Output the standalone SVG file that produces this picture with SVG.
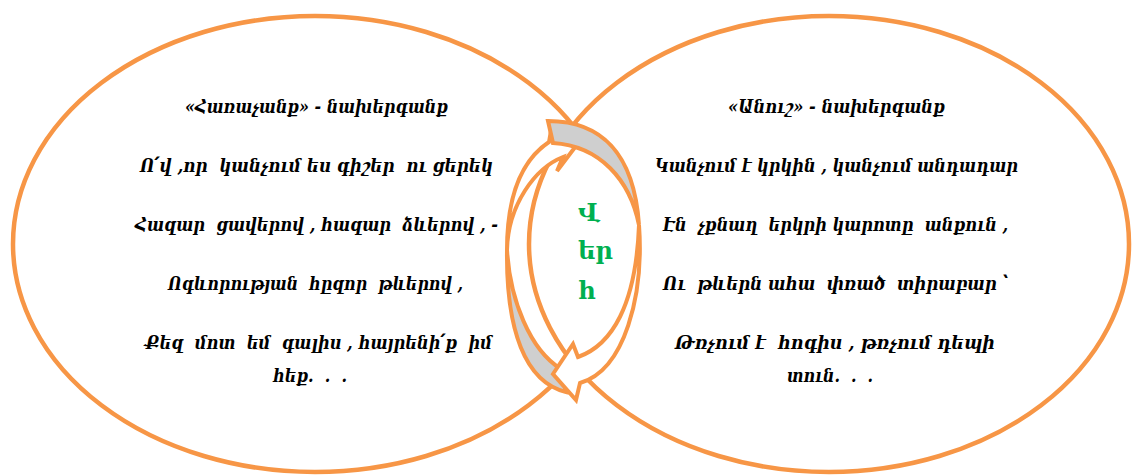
<svg xmlns="http://www.w3.org/2000/svg" width="1134" height="476" viewBox="0 0 1134 476">
<style>
.ell{fill:#FFFFFF;stroke:#F79646;stroke-width:4.5}
.gray{fill:#CFCFCF;stroke:#F79646;stroke-width:4;stroke-linejoin:miter}
.band{fill:#FFFFFF;stroke:#F79646;stroke-width:4;stroke-linejoin:miter}
.t{font-family:"DejaVu Serif","DejaVu Sans",serif;font-style:italic;font-weight:bold;font-size:19px;fill:#000000;white-space:pre}
.g{font-family:"DejaVu Serif","DejaVu Sans",serif;font-size:24px;font-weight:bold;fill:#00B050}
</style>
<rect x="0" y="0" width="1134" height="476" fill="#FFFFFF"/>
<g id="left-node">
<ellipse class="ell" cx="315" cy="244" rx="302" ry="228"/>
</g>
<g id="right-node">
<ellipse class="ell" cx="829" cy="244" rx="300" ry="228"/>
</g>
<g id="connectors">
<path id="arrow-b-back" class="gray" d="M566,392 C525,382 506,330 507,250 C510,300 530,350 561,369 Z"/>
<path id="arrow-b-front" class="band" d="M507,250 C507,195 522,160 549,142 L552,125 L582,138 L557,171 L563,157 C535,168 508,205 507,250 Z"/>
<path id="arrow-a-back" class="gray" d="M548,121 C600,121 634,152 639,225 C630,180 600,146 553,143 Z"/>
<path id="arrow-a-front" class="band" d="M639,225 C644,295 625,370 580,383 L576,400 L553,374 L573,344 L578,357 C612,345 636,305 639,225 Z"/>
</g>
<g id="left-text">
<text class="t" x="185" y="113" textLength="263" lengthAdjust="spacingAndGlyphs">«Հառաչանք» - նախերգանք</text>
<text class="t" x="140" y="172" textLength="353" lengthAdjust="spacingAndGlyphs">Ո՛վ ,որ  կանչում ես գիշեր  ու ցերեկ</text>
<text class="t" x="135" y="231" textLength="363" lengthAdjust="spacingAndGlyphs">Հազար  ցավերով , հազար  ձևերով , -</text>
<text class="t" x="168" y="290" textLength="295" lengthAdjust="spacingAndGlyphs">Ոգևորության  հըզոր  թևերով ,</text>
<text class="t" x="145" y="349" textLength="347" lengthAdjust="spacingAndGlyphs">Քեզ  մոտ  եմ  գալիս , հայրենի՛ք  իմ</text>
<text class="t" x="273" y="382" textLength="74" lengthAdjust="spacingAndGlyphs">հեք.  .  .</text>
</g>
<g id="right-text">
<text class="t" x="728" y="113" textLength="217" lengthAdjust="spacingAndGlyphs">«Անուշ» - նախերգանք</text>
<text class="t" x="655" y="172" textLength="363" lengthAdjust="spacingAndGlyphs">Կանչում է կրկին , կանչում անդադար</text>
<text class="t" x="663" y="231" textLength="345" lengthAdjust="spacingAndGlyphs">Էն  չքնաղ  երկրի կարոտը  անքուն ,</text>
<text class="t" x="663" y="290" textLength="345" lengthAdjust="spacingAndGlyphs">Ու  թևերն ահա  փռած  տիրաբար ՝</text>
<text class="t" x="675" y="349" textLength="320" lengthAdjust="spacingAndGlyphs">Թռչում է  հոգիս , թռչում դեպի</text>
<text class="t" x="787" y="382" textLength="86" lengthAdjust="spacingAndGlyphs">տուն.  .  .</text>
</g>
<g id="center-label">
<text class="g" x="578" y="221">Վ</text>
<text class="g" x="578" y="259">եր</text>
<text class="g" x="578" y="299">հ</text>
</g>
</svg>
